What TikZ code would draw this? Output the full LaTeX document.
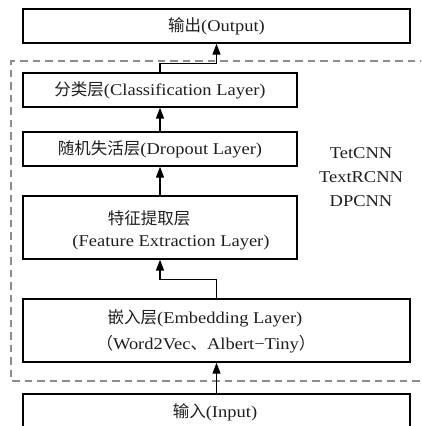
\documentclass[tikz,border=0pt]{standalone}
\usepackage{fontspec}
\setmainfont{Liberation Serif}[FakeStretch=1.12]
\newfontfamily\cjk{Noto Sans CJK SC}
\usetikzlibrary{arrows.meta}
\begin{document}
\begin{tikzpicture}[x=1pt,y=-1pt,
  every node/.style={text=black!88, font=\fontsize{16.5}{19}\selectfont},
  box/.style={draw=black, line width=1.4pt, inner sep=0pt},
  arr/.style={line width=1.4pt, -{Triangle[length=11pt,width=8pt]}},
  txt/.style={inner sep=0pt}]
\clip (0,0) rectangle (421,426);
\fill[white] (0,0) rectangle (421,426);
% dashed frame
\draw[gray!90, line width=1.3pt, dash pattern=on 7.5pt off 5pt] (440,61) -- (11,61) -- (11,381) -- (440,381);
% boxes
\node[box, minimum width=387pt, minimum height=34pt] (out) at (216.5,26) {{\cjk 输出}(Output)};
\node[box, minimum width=274pt, minimum height=34pt] (cls) at (160,90) {{\cjk 分类层}(Classification Layer)};
\node[box, minimum width=274pt, minimum height=34pt] (drop) at (160,149) {{\cjk 随机失活层}(Dropout Layer)};
\node[box, minimum width=274pt, minimum height=63pt] (feat) at (160,227.5) {};
\node[txt] (feat1) at (149,218) {\cjk 特征提取层};
\node[txt] (feat2) at (171,243) {(Feature Extraction Layer)};
\node[box, minimum width=387pt, minimum height=63pt] (emb) at (216.5,330.5) {};
\node[txt] (emb1) at (205,318) {{\cjk 嵌入层}(Embedding Layer)};
\node[txt] (emb2) at (206,344) {{\cjk （}Word2Vec{\cjk 、}Albert\textminus Tiny{\cjk ）}};
\node[box, minimum width=387pt, minimum height=44pt] (inp) at (216.5,416) {};
\node[txt] (inpt) at (215,412) {{\cjk 输入}(Input)};
\node[txt, align=center, font=\fontsize{16.5}{24}\selectfont] (models) at (361,177) {TetCNN\\TextRCNN\\DPCNN};
% connectors
\draw[arr] (cls.north) -- ++(0,-9) -| (out.south);
\draw[arr] (drop.north) -- (cls.south);
\draw[arr] (feat.north) -- (drop.south);
\draw[arr] (emb.north) -- ++(0,-19) -| (feat.south);
\draw[arr] (inp.north) -- (emb.south);
\end{tikzpicture}
\end{document}
